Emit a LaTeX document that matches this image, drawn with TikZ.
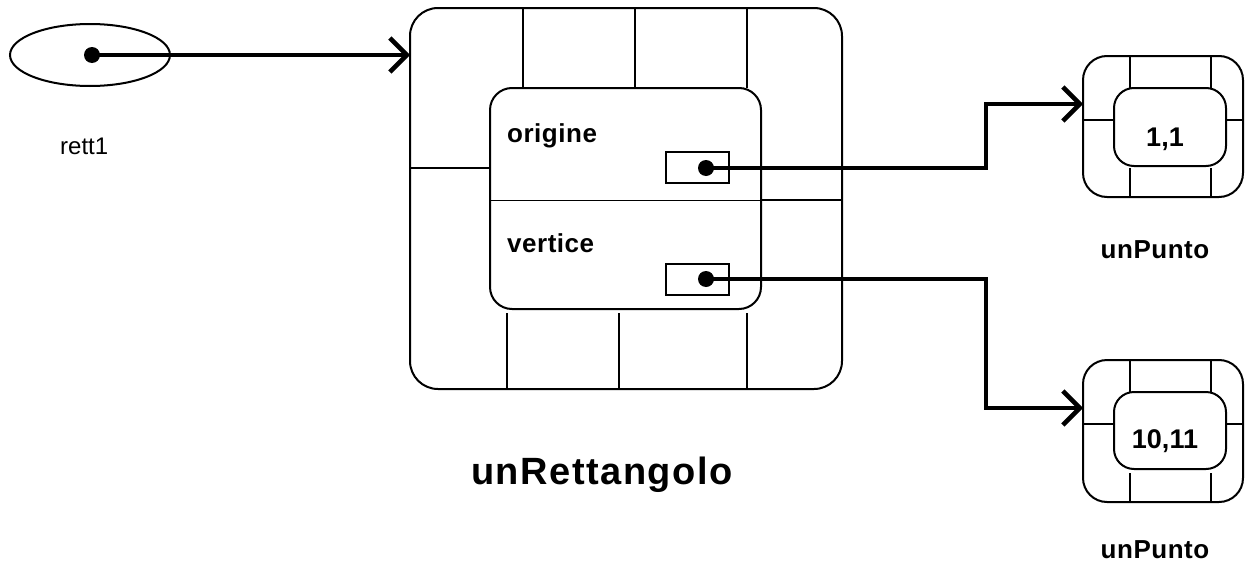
\documentclass[tikz,border=0pt]{standalone}
\usepackage{fontspec}
\setmainfont{Liberation Sans}
\usetikzlibrary{arrows.meta,shapes.geometric}
\begin{document}
\begin{tikzpicture}[x=1pt,y=-1pt,line join=miter,
  frame/.style={draw,line width=2pt,inner sep=0pt,outer sep=0pt},
  slot/.style={draw,line width=2.6pt,inner sep=0pt,outer sep=0pt,minimum width=63pt,minimum height=31pt},
  dot/.style={circle,fill,inner sep=0pt,minimum size=16pt},
  grid/.style={line width=2pt},
  link/.style={line width=4.5pt,-{Straight Barb[length=17pt,width=34pt]}},
  plain/.style={inner sep=0pt,font=\fontsize{24}{28}\selectfont},
  field/.style={inner sep=0pt,font=\fontsize{26}{30}\selectfont\bfseries\addfontfeature{LetterSpace=2}},
  value/.style={inner sep=0pt,font=\fontsize{27}{31}\selectfont\bfseries},
  typename/.style={inner sep=0pt,font=\fontsize{26}{30}\selectfont\bfseries\addfontfeature{LetterSpace=2}},
  title/.style={inner sep=0pt,font=\fontsize{38}{44}\selectfont\bfseries\addfontfeature{LetterSpace=4}}]
\useasboundingbox (0,0) rectangle (1245,562);

% reference variable rett1
\node[ellipse,draw,line width=2pt,minimum width=160pt,minimum height=62pt,inner sep=0pt] (rett) at (90,55) {};
\node[dot] (rd) at (92,55) {};
\node[plain,anchor=base west] (lrett) at (60,154) {rett1};

% the rectangle object
\draw[grid] (523,8) -- (523,88) (635,8) -- (635,88) (747,8) -- (747,88)
            (410,168) -- (490,168) (761,200) -- (842,200)
            (507,313) -- (507,389) (619,313) -- (619,389) (747,313) -- (747,389);
\node[frame,rounded corners=28pt,minimum width=432pt,minimum height=381pt] (obj) at (626,198.5) {};
\node[frame,rounded corners=22pt,minimum width=271pt,minimum height=221pt] (objin) at (625.5,198.5) {};
\draw[line width=1pt] (objin.west |- 0,200) -- (objin.east |- 0,200);
\node[field,anchor=base west] (lorig) at (507,142) {origine};
\node[field,anchor=base west] (lvert) at (507,252) {vertice};
\node[slot] (so) at (697.5,167.5) {};
\node[slot] (sv) at (697.5,279.5) {};
\node[title,anchor=base] (lobj) at (602,484) {unRettangolo};

% first point object
\draw[grid] (1130,56) -- (1130,88) (1211,56) -- (1211,88)
            (1083,120) -- (1114,120) (1226,120) -- (1243,120)
            (1130,168) -- (1130,197) (1211,168) -- (1211,197);
\node[frame,rounded corners=24pt,minimum width=160pt,minimum height=141pt] (p1) at (1163,126.5) {};
\node[frame,rounded corners=20pt,minimum width=112pt,minimum height=78pt] (p1in) at (1170,127) {};
\node[value,anchor=base] (v1) at (1165,146) {1,1};
\node[typename,anchor=base] (lp1) at (1155,258) {unPunto};

% second point object
\draw[grid] (1130,360) -- (1130,392) (1211,360) -- (1211,392)
            (1083,424) -- (1114,424) (1226,424) -- (1243,424)
            (1130,473) -- (1130,502) (1211,473) -- (1211,502);
\node[frame,rounded corners=24pt,minimum width=160pt,minimum height=142pt] (p2) at (1163,431) {};
\node[frame,rounded corners=20pt,minimum width=112pt,minimum height=77pt] (p2in) at (1170,430.5) {};
\node[value,anchor=base] (v2) at (1165,448) {10,11};
\node[typename,anchor=base] (lp2) at (1155,558) {unPunto};

% references
\coordinate (j1) at (986,104);
\coordinate (j2) at (986,408);
\draw[link] (rd.center) -- (obj.west |- rd);
\draw[link] (706,168) -| (j1) -- (p1.west |- j1);
\draw[link] (706,279) -| (j2) -- (p2.west |- j2);
\node[dot] (od) at (706,168) {};
\node[dot] (vd) at (706,279) {};
\end{tikzpicture}
\end{document}
